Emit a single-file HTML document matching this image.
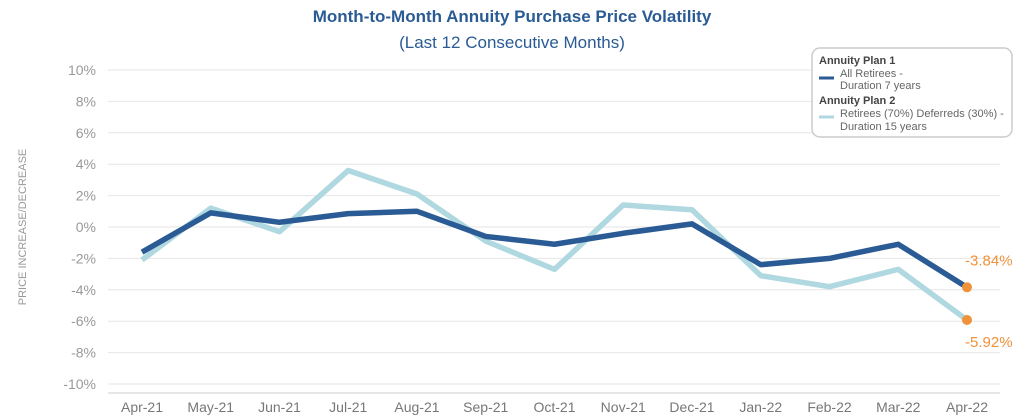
<!DOCTYPE html>
<html><head><meta charset="utf-8"><style>
body{margin:0;background:#fff;font-family:"Liberation Sans",sans-serif;}
svg{display:block}
</style></head><body>
<svg id="chart" width="1024" height="420">
<text x="512" y="22" text-anchor="middle" font-size="17" font-weight="bold" fill="#2a5b94">Month-to-Month Annuity Purchase Price Volatility</text>
<text x="512" y="48" text-anchor="middle" font-size="17" fill="#2a5b94">(Last 12 Consecutive Months)</text>
<text transform="translate(26,227) rotate(-90)" text-anchor="middle" font-size="11" fill="#999">PRICE INCREASE/DECREASE</text>
<g id="grid"></g><g id="series"></g>
<g>
<rect x="812" y="48" width="200" height="89" rx="8" fill="#fff" stroke="#ccc" stroke-width="1.5"/>
<text x="819" y="64" font-size="11" font-weight="bold" fill="#444">Annuity Plan 1</text>
<line x1="819" x2="834" y1="78" y2="78" stroke="#2a5b94" stroke-width="3"/>
<text x="840" y="77" font-size="11" fill="#666">All Retirees -</text>
<text x="840" y="89" font-size="11" fill="#666">Duration 7 years</text>
<text x="819" y="104" font-size="11" font-weight="bold" fill="#444">Annuity Plan 2</text>
<line x1="819" x2="834" y1="117" y2="117" stroke="#b0d8e0" stroke-width="3"/>
<text x="840" y="117" font-size="11" fill="#666">Retirees (70%) Deferreds (30%) -</text>
<text x="840" y="130" font-size="11" fill="#666">Duration 15 years</text>
</g>
</svg>
<script>
const months=["Apr-21","May-21","Jun-21","Jul-21","Aug-21","Sep-21","Oct-21","Nov-21","Dec-21","Jan-22","Feb-22","Mar-22","Apr-22"];
const plan1=[-1.6,0.9,0.3,0.85,1.0,-0.6,-1.1,-0.4,0.2,-2.4,-2.0,-1.1,-3.84];
const plan2=[-2.1,1.2,-0.3,3.6,2.1,-0.9,-2.7,1.4,1.1,-3.1,-3.8,-2.7,-5.92];
const yTicks=[10,8,6,4,2,0,-2,-4,-6,-8,-10];
const NS="http://www.w3.org/2000/svg";
const x=i=>142+i*(967-142)/(months.length-1);
const y=v=>227-v*15.7;
const g=document.getElementById('grid'),s=document.getElementById('series');
function el(t,a,p){const e=document.createElementNS(NS,t);for(const k in a)e.setAttribute(k,a[k]);p.appendChild(e);return e;}
yTicks.forEach(v=>{
 const l=el('line',{x1:108,x2:1000,y1:y(v),y2:y(v),stroke:'#e6e6e6'},g);
 
 
 const t=el('text',{x:96,y:y(v)+5,'text-anchor':'end','font-size':14,fill:'#999'},g);
 t.textContent=v+'%';
 
 
});
const ax=el('line',{x1:108,x2:1000,y1:393,y2:393,stroke:'#ccc'},g);


months.forEach((m,i)=>{
 const t=el('text',{x:x(i),y:412,'text-anchor':'middle','font-size':14,fill:'#777'},g);
 t.textContent=m;
 
 
});
function line(d,c,name){
 const p=el('polyline',{points:d.map((v,i)=>x(i)+','+y(v)).join(' '),fill:'none',stroke:c,'stroke-width':5.5,'stroke-linejoin':'round'},s);
 
 
}
line(plan2,'#b0d8e0','plan2-line');
line(plan1,'#2a5b94','plan1-line');
[[plan1,-27],[plan2,22]].forEach(([d,off],k)=>{
 const n=d.length-1;
 const c=el('circle',{cx:x(n),cy:y(d[n]),r:5,fill:'#f0923a'},s);
 
 
 const t=el('text',{x:x(n)-2,y:y(d[n])+off+5,'font-size':15,fill:'#f0923a'},s);
 t.textContent=d[n].toFixed(2)+'%';
 
 
});
</script>
</body></html>
